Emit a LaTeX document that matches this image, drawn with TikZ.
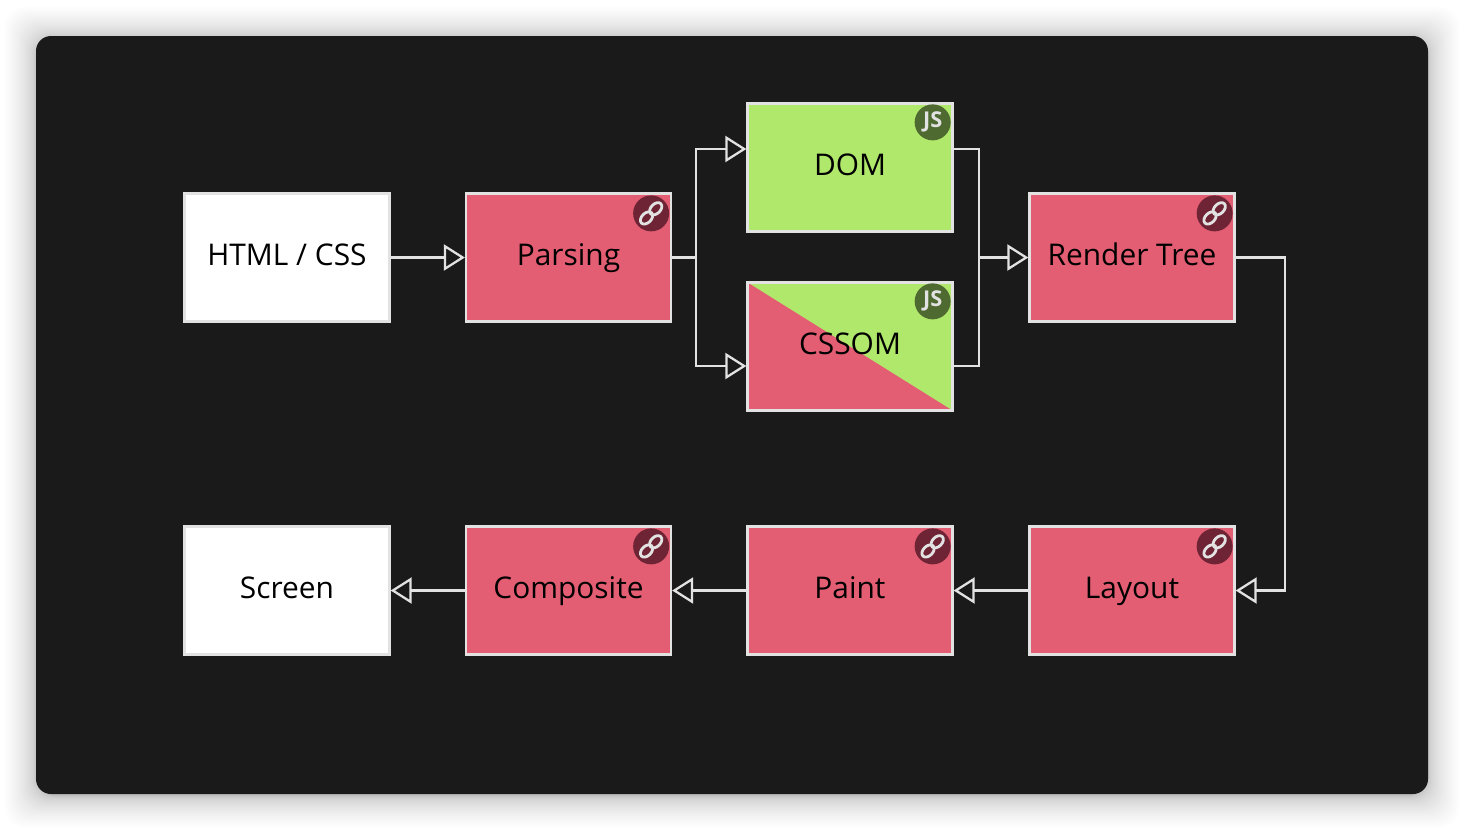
\documentclass[tikz,border=0pt]{standalone}
\usepackage{fontspec}
\setmainfont{Open Sans}
\usetikzlibrary{arrows.meta,calc}
\definecolor{panelblack}{HTML}{1A1A1A}
\definecolor{softpink}{HTML}{E35E73}
\definecolor{softgreen}{HTML}{B0E86B}
\definecolor{darkpink}{HTML}{6E2435}
\definecolor{darkgreen}{HTML}{4F6A30}
\definecolor{edgegray}{HTML}{E2E2E2}
\begin{document}
\begin{tikzpicture}[
  st/.style={draw=edgegray,line width=0.65pt,minimum width=2.05cm,minimum height=1.28cm,
    inner sep=0pt,text=black,text height=0.24cm,text depth=0.09cm,
    font=\fontsize{8.5}{10}\selectfont},
  wh/.style={st,fill=white},
  rd/.style={st,fill=softpink},
  gr/.style={st,fill=softgreen},
  bd/.style={circle,minimum size=0.36cm,inner sep=0pt,text=edgegray,
    font=\fontsize{6.2}{7}\selectfont\bfseries},
  a/.style={-{Triangle[open,length=2.1mm,width=2.6mm,line width=0.65pt]},line width=0.6pt,edgegray},
  l/.style={line width=0.6pt,edgegray}]
\useasboundingbox (0,0) rectangle (14.64,8.30);
% soft shadow under the panel
\foreach \s in {1,...,32}
  \fill[black,opacity=0.006,rounded corners=0.2cm]
    ({0.36-\s*\s*0.0003},{0.34-\s*\s*0.0003}) rectangle ({14.28+\s*\s*0.0003},{7.92+\s*\s*0.0003});
\fill[panelblack,rounded corners=0.15cm] (0.36,0.36) rectangle (14.28,7.94);
% top row
\node[wh] (html) at (2.87,5.725) {HTML / CSS};
\node[rd] (parsing) at (5.685,5.725) {Parsing};
\node[gr] (dom) at (8.50,6.625) {DOM};
\node[gr,path picture={\fill[softpink] (path picture bounding box.north west)
    -- (path picture bounding box.south east) -- (path picture bounding box.south west) -- cycle;}]
  (cssom) at (8.50,4.835) {CSSOM};
\node[rd] (render) at (11.32,5.725) {Render Tree};
% bottom row
\node[wh] (screen) at (2.87,2.395) {Screen};
\node[rd] (composite) at (5.685,2.395) {Composite};
\node[rd] (paint) at (8.50,2.395) {Paint};
\node[rd] (layout) at (11.32,2.395) {Layout};
% badges
\foreach \n in {parsing,render,composite,paint,layout}{
  \node[bd,fill=darkpink] (b\n) at ($(\n.north east)+(-0.21,-0.21)$) {};
  \draw[edgegray,line width=0.8pt,rotate around={45:(b\n.center)}]
    ($(b\n.center)+(-0.065,0)$) ellipse (0.072 and 0.048)
    ($(b\n.center)+(0.065,0)$) ellipse (0.072 and 0.048);
}
\node[bd,fill=darkgreen] (bdom) at ($(dom.north east)+(-0.21,-0.20)$) {JS};
\node[bd,fill=darkgreen] (bcssom) at ($(cssom.north east)+(-0.21,-0.20)$) {JS};
% connectors
\coordinate (join) at ($(dom.east|-render.west)+(0.25,0)$);
\draw[a] (html)--(parsing);
\draw[a] (parsing.east)--++(0.24,0)|-([yshift=0.185cm]dom.west);
\draw[a] (parsing.east)--++(0.24,0)|-([yshift=-0.195cm]cssom.west);
\draw[l] ([yshift=0.185cm]dom.east)-|(join);
\draw[l] ([yshift=-0.195cm]cssom.east)-|(join);
\draw[a] (join)--(render.west);
\draw[a] (render.east)--++(0.49,0)|-(layout.east);
\draw[a] (layout)--(paint); \draw[a] (paint)--(composite); \draw[a] (composite)--(screen);
\end{tikzpicture}
\end{document}
